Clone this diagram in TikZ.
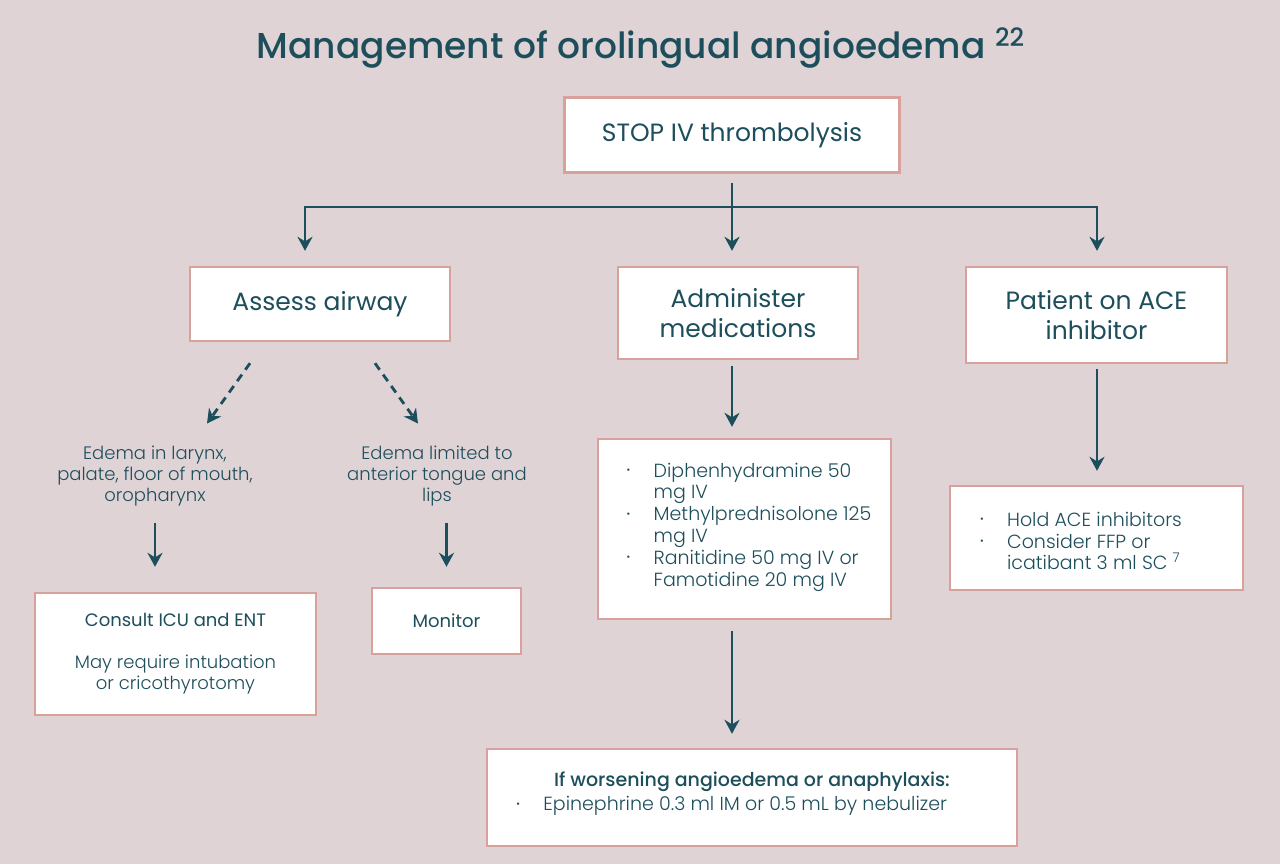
\documentclass[tikz,border=0pt]{standalone}
\usepackage{fontspec}
\setmainfont{Poppins}[BoldFont=* Medium]
\newfontfamily\litefont{Poppins Light}
\usetikzlibrary{arrows.meta,calc,positioning}
\definecolor{bgmauve}{HTML}{DFD3D6}
\definecolor{tealink}{HTML}{1D4E5B}
\definecolor{salmonline}{HTML}{D8A19C}
\newcommand{\bul}{\makebox[13.5pt][l]{\raisebox{0.35ex}{\fontsize{5}{5}\selectfont\textbullet}}}
\newcommand{\bulgap}{\hspace*{13.5pt}}

\begin{document}
\begin{tikzpicture}[x=0.5pt,y=-0.5pt,
  box/.style={draw=salmonline,line width=1.2pt,fill=white,inner sep=0pt,text=tealink,align=center},
  head/.style={font=\fontsize{12.5}{15}\selectfont},
  small/.style={font=\litefont\fontsize{9}{10.5}\selectfont,text=tealink,align=center,inner sep=0pt},
  listtxt/.style={font=\litefont\fontsize{9.5}{10.9}\selectfont,text=tealink,align=left,inner sep=0pt},
  link/.style={draw=tealink,line width=1.4pt},
  arr/.style={link,-{Stealth[length=7pt,width=7.5pt]}},
  darr/.style={arr,dash pattern=on 4pt off 3pt}]

\useasboundingbox[fill=bgmauve] (0,0) rectangle (1280,864);

% Title
\node[text=tealink,font=\bfseries\fontsize{18}{22}\selectfont] (title) at (641,48) {Management of orolingual angioedema \textsuperscript{22}};

% First level
\node[box,head,minimum width=167.5pt,minimum height=37.5pt] (stop) at (732,135) {STOP IV thrombolysis};
\node[box,head,minimum width=130pt,minimum height=37pt] (assess) at (320,304) {Assess airway};
\node[box,head,minimum width=120pt,minimum height=46pt] (admin) at (738,313) {Administer\\medications};
\node[box,head,minimum width=130.5pt,minimum height=48pt] (ace) at (1096.5,315) {Patient on ACE\\inhibitor};

% Airway branches
\node[small] (edL) at (155,476) {Edema in larynx,\\palate, floor of mouth,\\oropharynx};
\node[small] (edR) at (437,476) {Edema limited to\\anterior tongue and\\lips};
\node[box,small,minimum width=140.5pt,minimum height=61pt] (consult) at (175.5,654) {{\normalfont\fontsize{9}{10.5}\selectfont Consult ICU and ENT}\\[10.5pt]May require intubation\\or cricothyrotomy};
\node[box,small,minimum width=74.5pt,minimum height=33pt] (monitor) at (446.5,621) {\normalfont\fontsize{9}{10.5}\selectfont Monitor};

% Medication list
\node[box,minimum width=146.5pt,minimum height=90pt] (meds) at (744.5,529) {};
\node[listtxt] (medtxt) at (749,527) {\bul Diphenhydramine 50\\\bulgap mg IV\\\bul Methylprednisolone 125\\\bulgap mg IV\\\bul Ranitidine 50 mg IV or\\\bulgap Famotidine 20 mg IV};

% ACE list
\node[box,minimum width=146.5pt,minimum height=52pt] (acelist) at (1096.5,538) {};
\node[listtxt] (acetxt) at (1081,541) {\bul Hold ACE inhibitors\\\bul Consider FFP or\\\bulgap icatibant 3 ml SC \textsuperscript{7}};

% Worsening
\node[box,minimum width=265pt,minimum height=48.5pt] (worse) at (752,797.5) {};
\node[small,font=\fontsize{9.5}{11}\selectfont\bfseries] (worsehead) at (752,782) {If worsening angioedema or anaphylaxis:};
\node[listtxt,anchor=west] (worseitem) at (516,806) {\bul Epinephrine 0.3 ml IM or 0.5 mL by nebulizer};

% Connectors
\coordinate (split) at (732,207);
\coordinate (brL) at (305,207);
\coordinate (brR) at (1097,207);
\draw[link,shorten <=4.5pt] (stop) -- (split);
\draw[arr,shorten >=7.5pt] (split) -| (brL |- assess.north);
\draw[arr,shorten >=7.5pt] (split) -| (brR |- ace.north);
\draw[arr,shorten >=7.5pt] (split) -- (split |- admin.north);
\draw[arr,shorten <=3pt,shorten >=5.5pt] (admin.south -| split) -- (meds.north -| split);
\draw[arr,shorten <=5.5pt,shorten >=7pt] (meds.south -| split) -- (worse.north -| split);
\draw[arr,shorten <=2.5pt,shorten >=7pt] (ace.south -| brR) -- (acelist.north -| brR);

% Airway assessment
\draw[darr] ($(assess.south)+(-70,21)$) -- ($(edL.north)+(52,-22)$);
\draw[darr] ($(assess.south)+(55,21)$) -- ($(edR.north)+(-19,-22)$);
\draw[arr,shorten <=8pt,shorten >=12.5pt] (edL.south) -- (consult.north -| edL.south);
\draw[arr,shorten <=8pt,shorten >=10pt] (edR.south -| monitor.north) -- (monitor.north);

\end{tikzpicture}
\end{document}
